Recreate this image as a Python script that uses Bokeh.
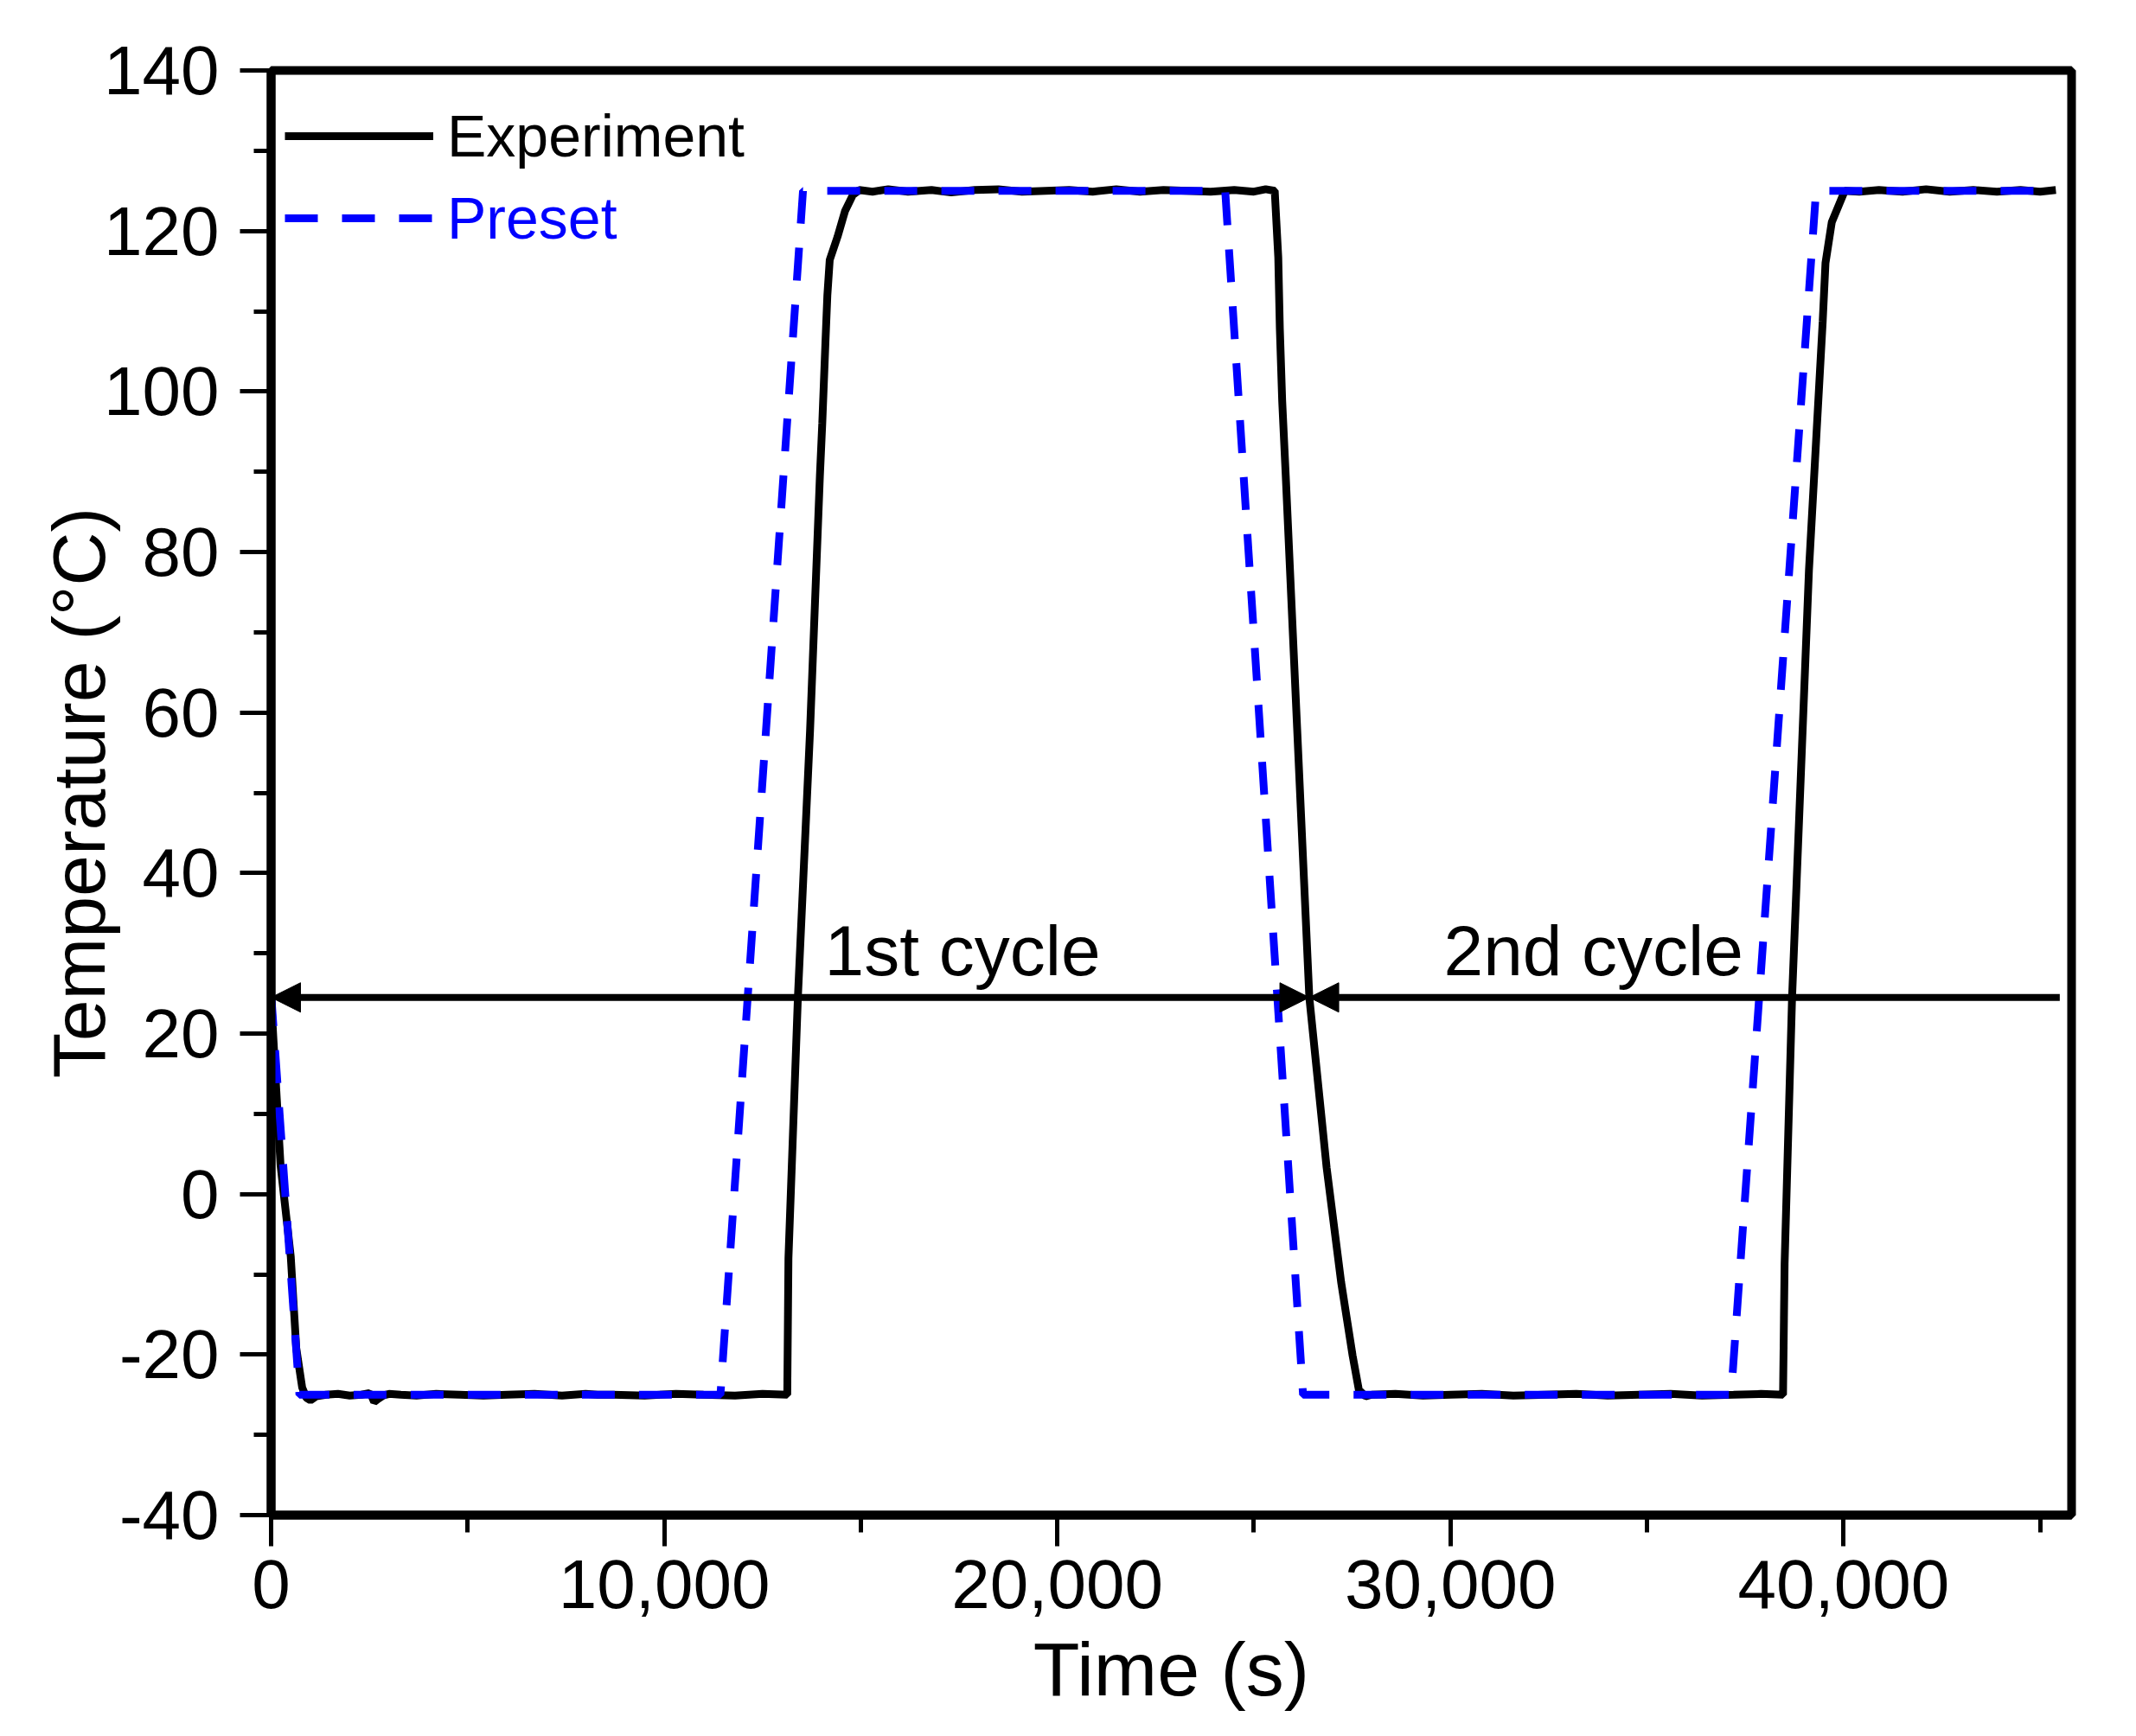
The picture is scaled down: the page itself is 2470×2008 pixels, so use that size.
from bokeh.plotting import figure
from bokeh.models import (Range1d, FixedTicker, Legend, LegendItem, Arrow,
                          NormalHead, ColumnDataSource)
from bokeh.core.properties import value
from bokeh.embed import file_html
from bokeh.resources import INLINE

FONT = "Liberation Sans"

exp_time = [0, 60, 240, 500, 640, 790, 900, 1000, 1150, 1400,
            1700, 2000, 2300, 2500, 2560, 2620, 2700, 2850, 3000, 3300,
            3700, 4200, 4800, 5400, 6000, 6700, 7400, 8000, 8300, 8700,
            9500, 10300, 11000, 11800, 12500, 13130,
            13160, 13400, 13710, 13960, 14020, 14100, 14150, 14210, 14410, 14600, 14800, 14960,
            15300, 15700, 16200, 16800, 17300, 17900, 18500, 19100, 19700, 20300,
            20900, 21500, 22100, 22700, 23300, 23900, 24500, 25000, 25300, 25530,
            25620, 25660, 25720, 25810, 26100, 26410, 26850, 27220, 27510, 27670, 27840, 28000,
            28600, 29300, 30000, 30800, 31600, 32400, 33200, 34000, 34800, 35600,
            36400, 37200, 37900, 38460,
            38500, 38690, 39120, 39470, 39540, 39700, 40030,
            40400, 40900, 41500, 42100, 42700, 43300, 43900, 44500, 45000, 45400]
exp_temp = [24.5, 19.2, 3.6, -7.8, -19.2, -24.1, -25.4, -25.7, -25.2, -25.0,
            -24.9, -25.1, -25.0, -24.8, -25.2, -25.9, -25.6, -25.1, -24.9, -25.0,
            -25.1, -24.9, -25.0, -25.1, -25.0, -24.9, -25.1, -24.9, -25.0, -25.0,
            -25.1, -24.9, -25.0, -25.1, -24.9, -25.0,
            -8.0, 24.5, 57.8, 89.5, 96.0, 106.0, 112.0, 116.4, 119.3, 122.5, 124.5, 125.1,
            124.9, 125.2, 124.9, 125.1, 124.8, 125.1, 125.2, 124.9, 125.0, 125.1,
            124.9, 125.2, 124.9, 125.1, 125.0, 124.9, 125.1, 124.9, 125.2, 125.0,
            116.7, 107.8, 98.8, 89.5, 58.0, 24.5, 3.3, -11.0, -20.1, -24.4, -25.2, -25.0,
            -24.9, -25.1, -25.0, -24.9, -25.1, -25.0, -24.9, -25.1, -25.0, -24.9,
            -25.1, -25.0, -24.9, -25.0,
            -8.7, 24.5, 77.8, 108.8, 116.0, 121.1, 125.0,
            124.9, 125.1, 124.9, 125.2, 124.9, 125.1, 124.9, 125.1, 124.9, 125.1]

# preset program
preset_time = [0, 720, 11430, 13530, 24270, 26250, 37140, 39300, 45400]
preset_temp = [25, -25, -25, 125, 125, -25, -25, 125, 125]

# cycle markers
cycle_y = 24.5
cycle_x = [0, 26410, 45500]
cycle_text = ["1st cycle", "2nd cycle"]
cycle_text_x = [14080, 29830]
cycle_text_y = [30.3, 30.3]

x_ticks = [0, 10000, 20000, 30000, 40000]
x_labels = ["0", "10,000", "20,000", "30,000", "40,000"]
x_minor = [5000, 15000, 25000, 35000, 45000]
y_ticks = [-40, -20, 0, 20, 40, 60, 80, 100, 120, 140]
y_labels = ["-40", "-20", "0", "20", "40", "60", "80", "100", "120", "140"]
y_minor = [-30, -10, 10, 30, 50, 70, 90, 110, 130]

p = figure(frame_width=2082, frame_height=1671,
           x_range=Range1d(0, 45800), y_range=Range1d(-40, 140),
           output_backend="svg", toolbar_location=None,
           min_border_left=313, min_border_right=50,
           min_border_top=81, min_border_bottom=235)
p.background_fill_color = "white"
p.border_fill_color = "white"
p.grid.visible = False
p.outline_line_color = "black"
p.outline_line_width = 10

p.xaxis.ticker = FixedTicker(ticks=x_ticks, minor_ticks=x_minor)
p.xaxis.major_label_overrides = dict(zip(x_ticks, x_labels))
p.yaxis.ticker = FixedTicker(ticks=y_ticks, minor_ticks=y_minor)
p.yaxis.major_label_overrides = dict(zip(y_ticks, y_labels))

for ax in (p.xaxis, p.yaxis):
    ax.axis_line_width = 10
    ax.axis_line_color = "black"
    ax.major_tick_in = 0
    ax.major_tick_out = 36
    ax.minor_tick_in = 0
    ax.minor_tick_out = 20
    ax.major_tick_line_width = 5
    ax.minor_tick_line_width = 5
    ax.major_tick_line_color = "black"
    ax.minor_tick_line_color = "black"
    ax.major_label_text_font = FONT
    ax.major_label_text_font_size = "80px"
    ax.major_label_text_color = "black"
    ax.axis_label_text_font = FONT
    ax.axis_label_text_font_style = "normal"
    ax.axis_label_text_color = "black"

p.xaxis.axis_label = "Time (s)"
p.xaxis.axis_label_text_font_size = "88px"
p.xaxis.major_label_standoff = 16
p.xaxis.axis_label_standoff = 18
p.yaxis.axis_label = "Temperature (°C)"
p.yaxis.axis_label_text_font_size = "86px"
p.yaxis.major_label_standoff = 24
p.yaxis.axis_label_standoff = -22

exp_src = ColumnDataSource(dict(x=exp_time, y=exp_temp))
pre_src = ColumnDataSource(dict(x=preset_time, y=preset_temp))

r_exp = p.line("x", "y", source=exp_src, line_color="black", line_width=9)
r_pre = p.line("x", "y", source=pre_src, line_color="#0000FF", line_width=9,
               line_dash="38 28")

# cycle arrows
head = dict(size=34, fill_color="black", line_color="black")
p.add_layout(Arrow(x_start=cycle_x[0], y_start=cycle_y, x_end=cycle_x[1], y_end=cycle_y,
                   start=NormalHead(**head), end=NormalHead(**head),
                   line_color="black", line_width=8))
p.add_layout(Arrow(x_start=cycle_x[1], y_start=cycle_y, x_end=cycle_x[2], y_end=cycle_y,
                   start=NormalHead(**head), end=None,
                   line_color="black", line_width=8))

p.text(x=cycle_text_x, y=cycle_text_y, text=cycle_text,
       text_font=value(FONT), text_font_size="82px", text_color="black",
       text_align="left", text_baseline="alphabetic")

# two legends so that each label keeps its own colour
leg_common = dict(location="top_left", margin=16, padding=0, spacing=0,
                  glyph_width=172, label_standoff=16,
                  label_text_font=FONT, label_text_font_size="68px",
                  border_line_color=None, background_fill_alpha=0)
leg1 = Legend(items=[LegendItem(label="Experiment", renderers=[r_exp])],
              glyph_height=120, label_height=120, label_text_color="black",
              **leg_common)
leg2 = Legend(items=[LegendItem(label="Preset", renderers=[r_pre])],
              glyph_height=310, label_height=310, label_text_color="#0000FF",
              **leg_common)
p.add_layout(leg1)
p.add_layout(leg2)

open("out.html", "w").write(file_html(p, INLINE))
